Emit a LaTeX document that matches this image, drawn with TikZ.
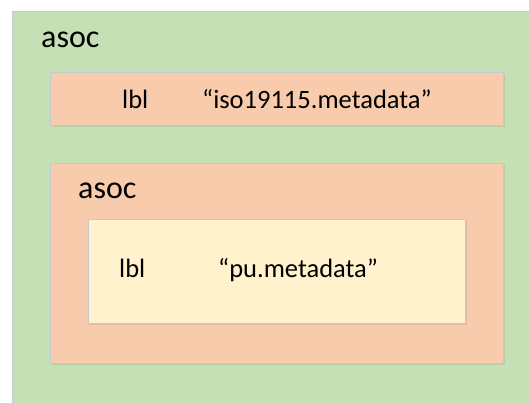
\documentclass[tikz,border=0pt]{standalone}
\usepackage{fontspec}
\setmainfont{Carlito}
\usetikzlibrary{shadows}
\definecolor{asocgreen}{HTML}{C5E0B4}
\definecolor{lblorange}{HTML}{F8CBAD}
\definecolor{lblyellow}{HTML}{FFF2CC}
\definecolor{edgegray}{HTML}{C4CAD2}

\begin{document}
\begin{tikzpicture}[x=1pt,y=-1pt,
    box/.style={draw=edgegray, line width=1pt, anchor=north west, inner sep=0pt,
      drop shadow={opacity=0.2, shadow xshift=1.5pt, shadow yshift=-1.5pt}},
    txt/.style={anchor=base west, inner sep=0pt, font=\fontsize{26.5}{30}\selectfont},
    head/.style={txt, font=\fontsize{32}{36}\selectfont}]
    \useasboundingbox (0,0) rectangle (529,402);
    \fill[white] (0,0) rectangle (529,402);
    % containers
    \node[box, fill=asocgreen, minimum width=530pt, minimum height=400pt] (outer) at (12,11) {};
    \node[box, fill=lblorange, minimum width=453pt, minimum height=53pt] (lblbox) at (50,72) {};
    \node[box, fill=lblorange, minimum width=453pt, minimum height=200pt] (inner) at (50,163) {};
    \node[box, fill=lblyellow, minimum width=377pt, minimum height=104pt] (pubox) at (88,219) {};
    % labels
    \node[head] (asoc1) at (41,47) {asoc};
    \node[txt] (lbl1) at (122,108) {lbl};
    \node[txt] (iso) at (202,108) {“iso19115.metadata”};
    \node[head] (asoc2) at (78,198) {asoc};
    \node[txt] (lbl2) at (119,277) {lbl};
    \node[txt] (pu) at (218,277) {“pu.metadata”};
\end{tikzpicture}
\end{document}
